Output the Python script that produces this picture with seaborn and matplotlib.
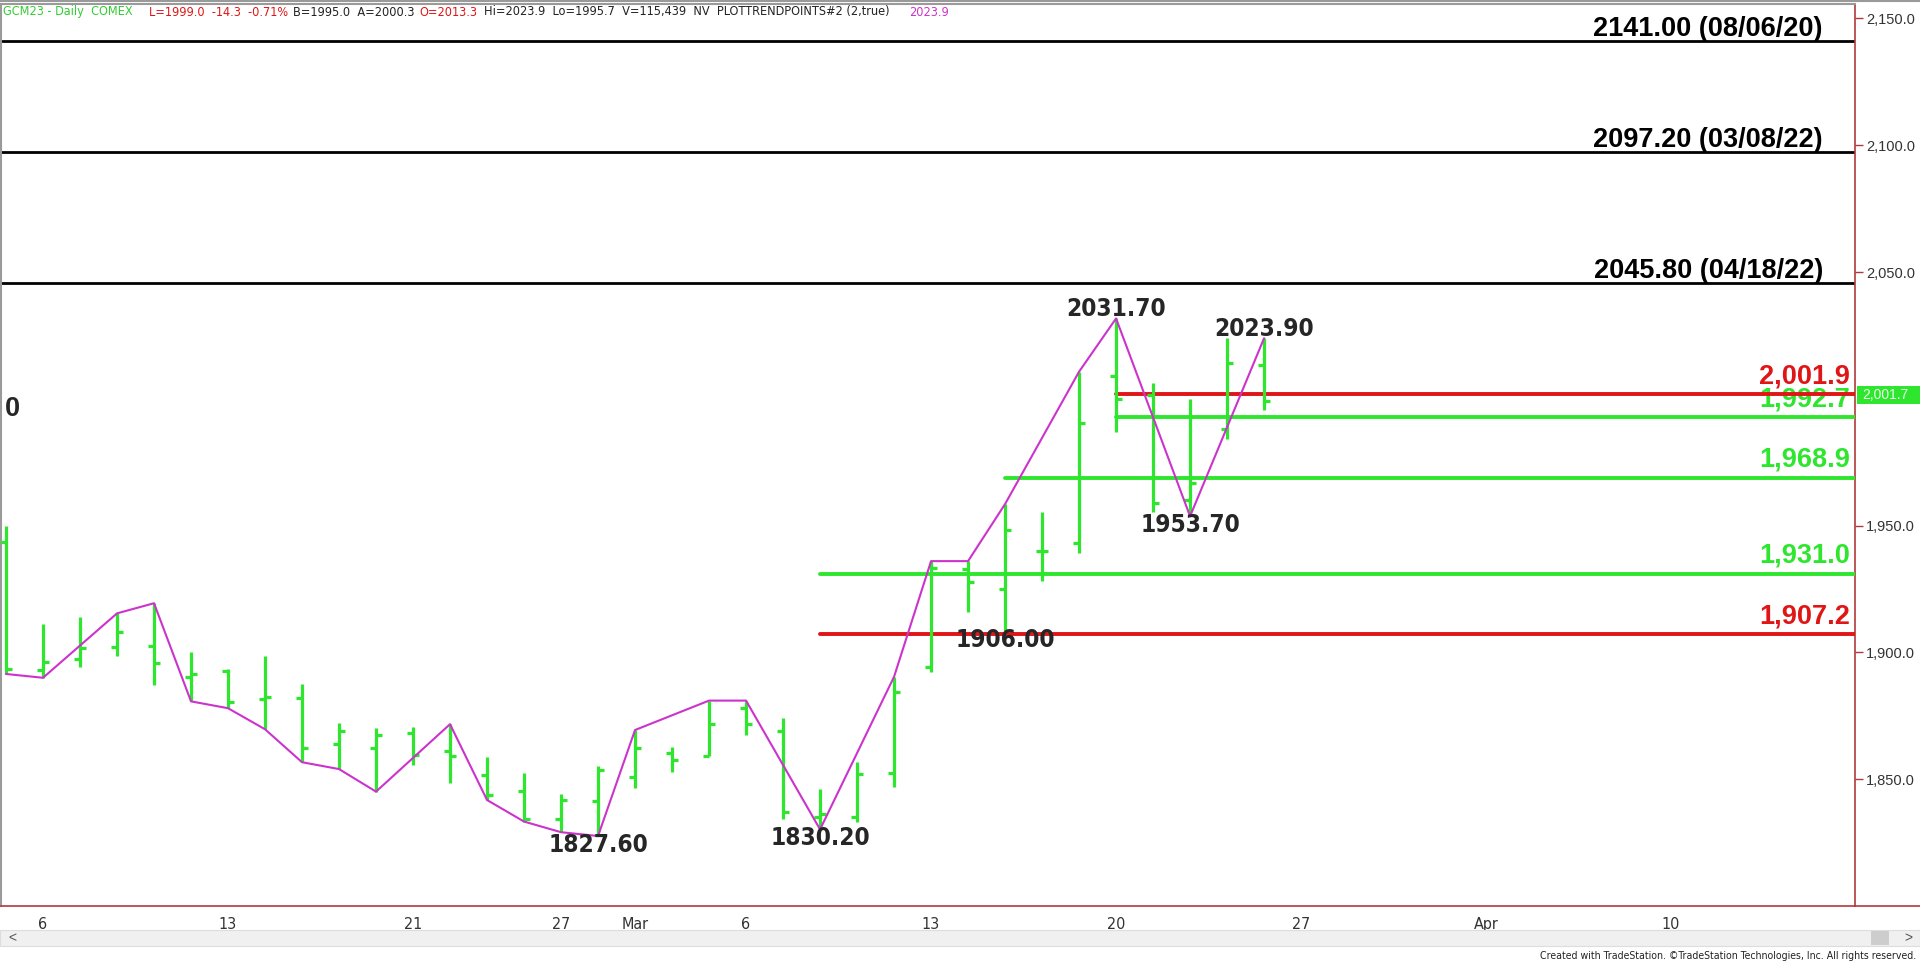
import numpy as np
import pandas as pd
import matplotlib.pyplot as plt
import matplotlib.transforms as mtransforms
from matplotlib import font_manager as fm
from matplotlib.font_manager import FontProperties
from matplotlib.patches import Rectangle
from matplotlib.lines import Line2D
from matplotlib.ticker import FuncFormatter
import seaborn as sns

sns.set_style("white")
plt.rcParams["font.family"] = ["Liberation Sans", "DejaVu Sans"]

# daily OHLC bars, GCM23 (Feb 3 .. Mar 24, 2023)
opens = [1943.7, 1893.0, 1897.4, 1902.1, 1902.7, 1890.5, 1892.7, 1881.5, 1881.9, 1863.8,
         1862.4, 1868.1, 1861.2, 1851.7, 1845.4, 1834.2, 1841.4, 1850.8, 1860.2, 1859.2,
         1878.2, 1869.0, 1835.2, 1835.0, 1852.6, 1894.4, 1933.0, 1925.0, 1940.1, 1943.3,
         2009.0, 2001.5, 1960.1, 1988.0, 2013.3]
highs = [1949.9, 1911.1, 1913.9, 1915.4, 1919.4, 1900.3, 1893.5, 1898.6, 1887.4, 1872.0,
         1870.1, 1870.7, 1871.7, 1858.6, 1852.3, 1844.2, 1855.3, 1869.4, 1862.8, 1881.0,
         1881.0, 1874.0, 1846.0, 1856.7, 1890.4, 1936.0, 1936.0, 1958.5, 1955.3, 2010.7,
         2031.7, 2006.1, 2000.0, 2023.9, 2023.9]
lows = [1891.5, 1890.0, 1894.4, 1898.6, 1887.2, 1880.7, 1878.0, 1869.7, 1856.7, 1854.0,
        1845.1, 1855.6, 1848.4, 1841.8, 1833.3, 1829.1, 1827.6, 1846.4, 1852.7, 1859.2,
        1867.4, 1834.2, 1830.2, 1833.3, 1847.0, 1892.2, 1916.1, 1908.3, 1928.2, 1939.1,
        1986.8, 1955.5, 1953.7, 1984.0, 1995.7]
closes = [1893.4, 1896.4, 1901.6, 1908.0, 1895.7, 1891.5, 1880.3, 1882.3, 1862.4, 1869.0,
          1867.4, 1859.5, 1859.0, 1843.8, 1834.2, 1841.8, 1853.6, 1862.4, 1857.6, 1871.8,
          1871.8, 1837.2, 1836.2, 1852.1, 1884.3, 1933.2, 1927.7, 1948.3, 1940.0, 1990.3,
          2000.0, 1958.8, 1966.7, 2014.0, 1999.0]

# PLOTTRENDPOINTS zigzag (bar number, price)
trend_bar = [0, 1, 3, 4, 5, 6, 7, 8, 9, 10, 12, 13, 14, 15, 16, 17, 19, 20, 22, 24,
             25, 26, 27, 29, 30, 32, 34]
trend_px = [1891.5, 1890.0, 1915.4, 1919.4, 1880.7, 1878.0, 1869.7, 1856.7, 1854.0, 1845.1,
            1871.7, 1841.8, 1833.3, 1829.1, 1827.6, 1869.4, 1881.0, 1881.0, 1830.2, 1890.4,
            1936.0, 1936.0, 1958.5, 2010.7, 2031.7, 1953.7, 2023.9]

# labelled swing points
pivot_bar = [16, 22, 27, 30, 32, 34]
pivot_px = [1827.6, 1830.2, 1906.0, 2031.7, 1953.7, 2023.9]
pivot_kind = ["low", "low", "low", "high", "low", "high"]

# old highs (black lines)
major_px = [2141.0, 2097.2, 2045.8]
major_lbl = ["2141.00 (08/06/20)", "2097.20 (03/08/22)", "2045.80 (04/18/22)"]

# retracement levels
level_px = [2001.9, 1992.7, 1968.9, 1931.0, 1907.2]
level_from = [30, 30, 27, 22, 22]
level_kind = ["red", "green", "green", "green", "red"]

yticks = [1850, 1900, 1950, 2050, 2100, 2150]
last_px = 2001.7

GREEN = "#2ee62e"
RED = "#e01515"
MAGENTA = "#cc33cc"
AXIS_RED = "#b03a3a"


def narrow_font(bold):
    # a condensed face if one is installed, else plain Liberation Sans
    for f in fm.fontManager.ttflist:
        if str(f.stretch) in ("condensed", "semi-condensed", "extra-condensed"):
            w = f.weight if isinstance(f.weight, (int, float)) else (700 if "bold" in str(f.weight) else 400)
            if (w >= 600) == bold and "italic" not in str(f.style) and "oblique" not in str(f.style):
                return FontProperties(fname=f.fname)
    return FontProperties(family="Liberation Sans", weight="bold" if bold else "normal")


# trading calendar incl. empty space to the right
cal = pd.bdate_range("2023-02-03", "2023-04-14")
cal = cal[cal != pd.Timestamp("2023-02-20")]
tick_pos, tick_lbl = [], []
for i in range(1, len(cal)):
    d, p = cal[i], cal[i - 1]
    if d.month != p.month:
        tick_pos.append(i)
        tick_lbl.append(d.strftime("%b"))
    elif d.weekday() < p.weekday():
        tick_pos.append(i)
        tick_lbl.append(str(d.day))

bars = pd.DataFrame({"x": np.arange(len(opens)), "open": opens, "high": highs,
                     "low": lows, "close": closes})

fig = plt.figure(figsize=(19.2, 9.63), dpi=100)
renderer = fig.canvas.get_renderer()


def fit(fp, sample, target_px, max_pt):
    fp = fp.copy()
    fp.set_size(20)
    t = fig.text(0, 0, sample, fontproperties=fp)
    w = t.get_window_extent(renderer).width
    t.remove()
    fp.set_size(min(max_pt, 20 * target_px / w))
    return fp


fp_pivot = fit(narrow_font(True), "2031.70", 100, 24)
fp_head = fit(narrow_font(False),
              "Hi=2023.9  Lo=1995.7  V=115,439  NV  PLOTTRENDPOINTS#2 (2,true)", 407, 11.5)
fp_small = fit(narrow_font(False),
               "Created with TradeStation. \u00a9TradeStation Technologies, Inc. All rights reserved.",
               376, 9)
fp_xt = narrow_font(False)
fp_xt.set_size(11.5)

ax = fig.add_axes([1 / 1920, 57 / 963, 1854 / 1920, 902 / 963])
x0, x1 = -0.135, 49.97
ax.set_xlim(x0, x1)
ax.set_ylim(1800.0, 2155.7)
blend = mtransforms.blended_transform_factory(ax.transAxes, ax.transData)

# bars
tk = 0.16
ax.vlines(bars.x, bars.low, bars.high, color=GREEN, lw=2.3, zorder=5)
ax.hlines(bars.open, bars.x - tk, bars.x, color=GREEN, lw=2.3, zorder=5)
ax.hlines(bars.close, bars.x, bars.x + tk, color=GREEN, lw=2.3, zorder=5)

sns.lineplot(x=trend_bar, y=trend_px, color=MAGENTA, lw=1.5, ax=ax, zorder=6)

for p, lab in zip(major_px, major_lbl):
    ax.axhline(p, color="black", lw=2.0, zorder=2)
    ax.annotate(lab, xy=(0.9827, p), xycoords=blend, xytext=(0, 5),
                textcoords="offset pixels", ha="right", va="baseline",
                fontsize=19.5, fontweight="bold", color="black")

for p, start, kind in zip(level_px, level_from, level_kind):
    c = RED if kind == "red" else GREEN
    ax.axhline(p, xmin=(start - x0) / (x1 - x0), xmax=1, color=c, lw=2.8, zorder=4)
    ax.annotate(f"{p:,.1f}", xy=(0.9973, p), xycoords=blend, xytext=(0, 11),
                textcoords="offset pixels", ha="right", va="baseline",
                fontsize=19.5, fontweight="bold", color=c, zorder=3)

for b, p, kind in zip(pivot_bar, pivot_px, pivot_kind):
    lo = bars.low[b] if kind == "low" else bars.high[b]
    if kind == "high":
        ax.annotate(f"{p:.2f}", xy=(b, lo), xytext=(0, 2), textcoords="offset pixels",
                    ha="center", va="baseline", fontproperties=fp_pivot, zorder=7)
    else:
        ax.annotate(f"{p:.2f}", xy=(b, lo), xytext=(0, 3), textcoords="offset pixels",
                    ha="center", va="top", fontproperties=fp_pivot, zorder=7)

ax.text(0.002, 1996, "0", transform=blend, ha="left", va="center",
        fontsize=19.5, fontweight="bold")

# axes cosmetics
ax.yaxis.tick_right()
ax.set_yticks(yticks)
ax.yaxis.set_major_formatter(FuncFormatter(lambda v, _: f"{v:,.1f}"))
ax.set_xticks(tick_pos)
ax.set_xticklabels(tick_lbl, fontproperties=fp_xt)
ax.tick_params(axis="y", direction="out", length=6, width=1, color=AXIS_RED,
               labelsize=10.5, labelcolor="#333333", pad=2)
ax.tick_params(axis="x", direction="out", length=4, width=1, color="#999999",
               labelcolor="#333333", pad=4)
for s in ["right", "bottom"]:
    ax.spines[s].set_color(AXIS_RED)
    ax.spines[s].set_linewidth(1.2)
for s in ["top", "left"]:
    ax.spines[s].set_color("#9a9a9a")
    ax.spines[s].set_linewidth(1.5)
ax.set_xlabel("")
ax.set_ylabel("")
ax.grid(False)

# last price marker on the scale
y_pix = ax.transData.transform((0, last_px))[1]
ident = mtransforms.IdentityTransform()
fig.add_artist(Rectangle((1857, y_pix - 9), 63, 18, transform=ident, fc=GREEN, ec="none"))
fig.text(1862 / 1920, y_pix / 963, f"{last_px:,.1f}", fontsize=10, color="#eaffea",
         ha="left", va="center")

fig.add_artist(Line2D([1855 / 1920, 1], [57 / 963, 57 / 963], color=AXIS_RED, lw=1.2))
fig.add_artist(Line2D([0, 1], [1 - 1 / 963, 1 - 1 / 963], color="#9a9a9a", lw=1.5))

# header
hy = 1 - 12 / 963
header = [
    (3, "GCM23 - Daily  COMEX", "#33cc33"),
    (149, "L=1999.0  -14.3  -0.71%", RED),
    (293, "B=1995.0  A=2000.3", "#222222"),
    (419, "O=2013.3", RED),
    (484, "Hi=2023.9  Lo=1995.7  V=115,439  NV  PLOTTRENDPOINTS#2 (2,true)", "#222222"),
    (909, "2023.9", MAGENTA),
]
for px, txt, c in header:
    fig.text(px / 1920, hy, txt, color=c, fontproperties=fp_head, ha="left", va="center")

# scrollbar + footer
fig.add_artist(Rectangle((0, 17 / 963), 1, 16 / 963, transform=fig.transFigure,
                         fc="#f0f0f0", ec="#dddddd", lw=0.8))
fig.add_artist(Rectangle((1871 / 1920, 18 / 963), 18 / 1920, 14 / 963,
                         transform=fig.transFigure, fc="#cdcdcd", ec="none"))
fig.text(8 / 1920, 25 / 963, "<", fontsize=10, color="#555555", va="center")
fig.text(1904 / 1920, 25 / 963, ">", fontsize=10, color="#555555", va="center")
fig.text(1916 / 1920, 7 / 963,
         "Created with TradeStation. \u00a9TradeStation Technologies, Inc. All rights reserved.",
         fontproperties=fp_small, ha="right", va="center", color="#222222")

fig.savefig("out.png", dpi=100)
